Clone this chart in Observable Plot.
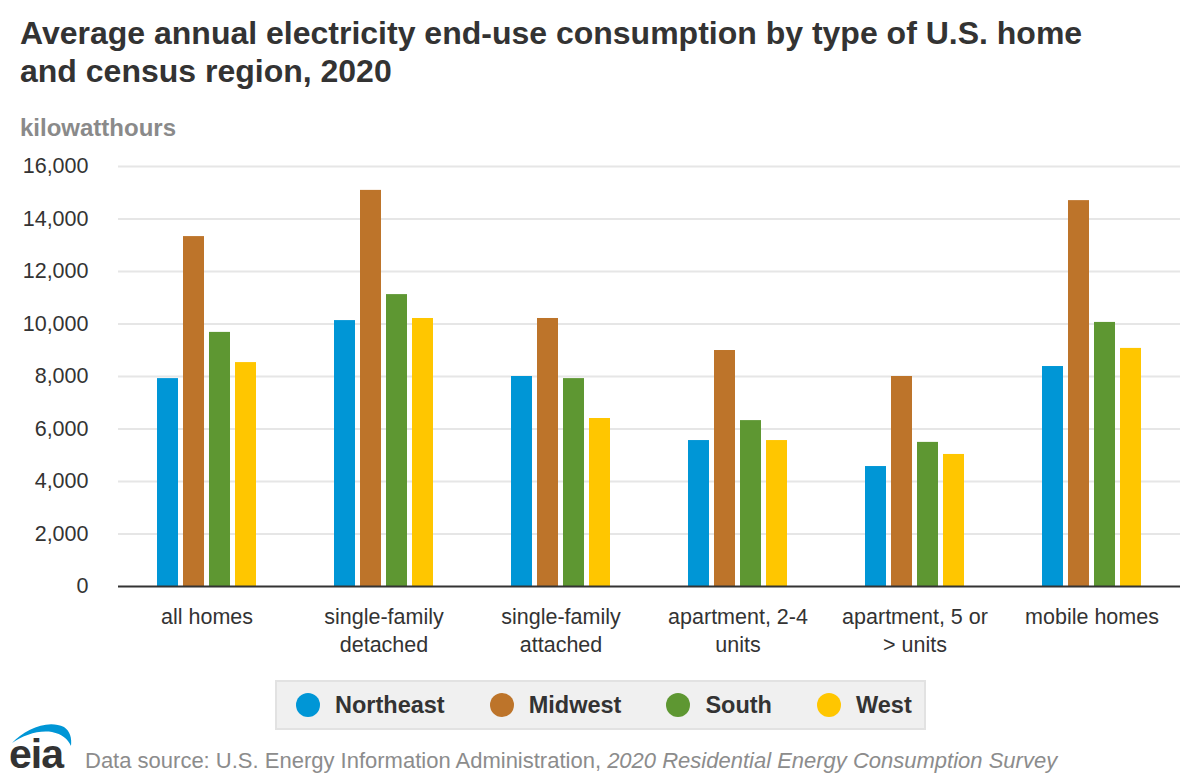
<!DOCTYPE html>
<html>
<head>
<meta charset="utf-8">
<script src="https://cdn.jsdelivr.net/npm/d3@7"></script>
<script src="https://cdn.jsdelivr.net/npm/@observablehq/plot@0.6"></script>
<style>
  html, body { margin: 0; padding: 0; background: #fff; }
  body { width: 1200px; height: 780px; position: relative; overflow: hidden;
         font-family: "Liberation Sans", Arial, sans-serif; color: #333; }
  #title { position: absolute; left: 20px; top: 14px; font-size: 32px; font-weight: bold;
           line-height: 38px; color: #333; white-space: nowrap; }
  #unit { position: absolute; left: 20px; top: 116px; font-size: 24px; font-weight: bold;
          line-height: 1; color: #8a8a8a; }
  #chart { position: absolute; left: 0; top: 140px; }
  #legend { position: absolute; left: 275px; top: 680px; height: 46px; box-sizing: content-box;
            background: #f0f0f0; border: 2px solid #e2e2e2; display: flex; align-items: center;
            padding: 0 12px 0 19px; }
  .item { display: flex; align-items: center; margin-right: 45px; font-size: 23.5px; font-weight: bold; color: #333; }
  .item:last-child { margin-right: 0; }
  .dot { width: 24px; height: 24px; border-radius: 50%; margin-right: 15px; }
  #caption { position: absolute; left: 85px; top: 750px; font-size: 22px; line-height: 1; color: #8c8c8c; white-space: nowrap; }
  #logo { position: absolute; left: 0; top: 715px; }
</style>
</head>
<body>
<div id="title">Average annual electricity end-use consumption by type of U.S. home<br>and census region, 2020</div>
<div id="unit">kilowatthours</div>
<div id="chart"></div>
<div id="legend"></div>
<svg id="logo" width="100" height="65" viewBox="0 0 100 65">
  <path d="M12,28 C25,14 48,4 64,12 C70,16 72,23 71,31 C68,24 62,19 52,17 C38,15 24,20 12,28 Z" fill="#0096d6"/>
  <text x="9" y="53" font-family="Liberation Sans, Arial, sans-serif" font-weight="bold" font-size="41" fill="#333" letter-spacing="-1">eia</text>
</svg>
<div id="caption">Data source: U.S. Energy Information Administration, <i>2020 Residential Energy Consumption Survey</i></div>
<script>
const categories = ["all homes", "single-family detached", "single-family attached", "apartment, 2-4 units", "apartment, 5 or > units", "mobile homes"];
const categoryLabels = ["all homes", "single-family\ndetached", "single-family\nattached", "apartment, 2-4\nunits", "apartment, 5 or\n> units", "mobile homes"];
const regions = ["Northeast", "Midwest", "South", "West"];
const regionColors = ["#0096d6", "#bd742a", "#5e9732", "#ffc600"];
const northeast = [7920, 10130, 8000, 5560, 4570, 8380];
const midwest   = [13330, 15090, 10210, 8990, 8000, 14700];
const south     = [9680, 11120, 7920, 6320, 5490, 10060];
const west      = [8530, 10210, 6400, 5560, 5030, 9070];
const yTicks = [0, 2000, 4000, 6000, 8000, 10000, 12000, 14000, 16000];

const series = [northeast, midwest, south, west];
const data = [];
categories.forEach((c, i) => {
  regions.forEach((r, j) => data.push({category: c, region: r, value: series[j][i]}));
});
const labelOf = new Map(categories.map((c, i) => [c, categoryLabels[i]]));

const chart = Plot.plot({
  width: 1200,
  height: 540,
  marginTop: 26,
  marginBottom: 94,
  marginLeft: 118,
  marginRight: 20,
  style: {fontFamily: "Liberation Sans, Arial, sans-serif", background: "transparent"},
  fx: {domain: categories, padding: 0, axis: null},
  x: {domain: regions, paddingInner: 0.18, paddingOuter: 1.38, axis: null},
  y: {domain: [0, 16000], axis: null},
  color: {domain: regions, range: regionColors},
  marks: [
    Plot.gridY(yTicks.filter(d => d > 0), {stroke: "#e6e6e6", strokeOpacity: 1, strokeWidth: 2}),
    Plot.axisY(yTicks, {tickSize: 0, tickPadding: 30, fontSize: 21.5, fill: "#333", tickFormat: d3.format(","), label: null}),
    Plot.barY(data, {fx: "category", x: "region", y: "value", fill: "region"}),
    Plot.ruleY([0], {stroke: "#333", strokeWidth: 2}),
    Plot.axisFx({anchor: "bottom", tickSize: 0, tickPadding: 18, fontSize: 21.5, fill: "#333", lineHeight: 1.3,
                 tickFormat: d => labelOf.get(d), label: null})
  ]
});
document.getElementById("chart").appendChild(chart);

const legend = document.getElementById("legend");
regions.forEach((r, i) => {
  const item = document.createElement("div");
  item.className = "item";
  const dot = document.createElement("span");
  dot.className = "dot";
  dot.style.background = regionColors[i];
  item.appendChild(dot);
  item.appendChild(document.createTextNode(r));
  legend.appendChild(item);
});
</script>
</body>
</html>
